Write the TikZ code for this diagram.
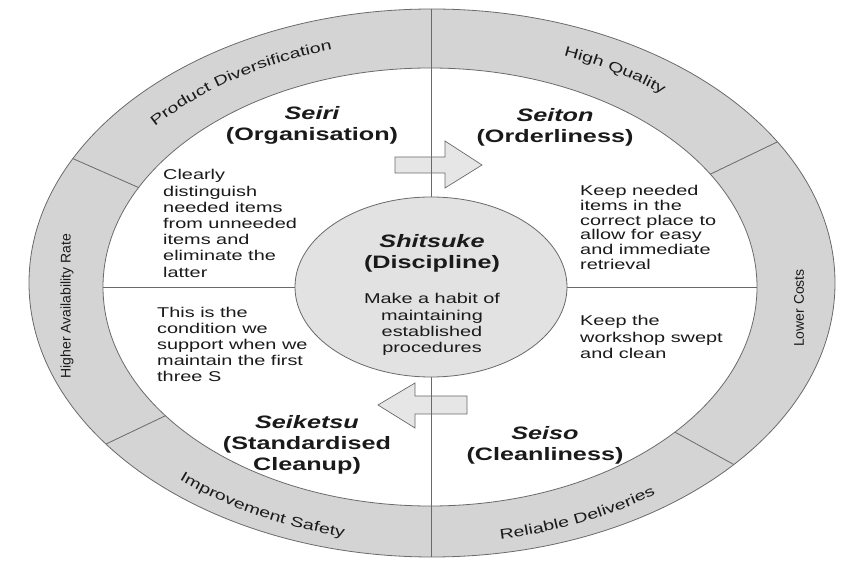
\documentclass[tikz,border=0pt]{standalone}
\usepackage{fontspec}
\setmainfont{Liberation Sans}
\newfontfamily\widefont{Liberation Sans}[FakeStretch=1.4]
\usetikzlibrary{decorations.text,calc}
\definecolor{bandgray}{HTML}{D4D4D4}
\definecolor{circgray}{HTML}{E2E2E2}
\definecolor{arrowgray}{HTML}{E6E6E6}
\definecolor{linegray}{HTML}{6A6A6A}
\definecolor{txt}{HTML}{1A1A1A}
\newcommand\bandtxt{\widefont\fontsize{14}{16}\selectfont\color{txt}}
\begin{document}
\begin{tikzpicture}[x=1pt,y=1pt,
  edge/.style={draw=linegray, line width=0.8pt},
  titletxt/.style={font={\widefont\bfseries\fontsize{18}{21}\selectfont}, align=center, text=txt, inner sep=0pt},
  bodytxt/.style={font={\widefont\fontsize{14.2}{16.2}\selectfont}, align=left, text=txt, inner sep=0pt, anchor=west},
  vlabel/.style={font={\fontsize{14}{15}\selectfont}, rotate=90, text=txt, inner sep=0pt},
  blockarrow/.style={draw=linegray, fill=arrowgray, line width=0.7pt, line join=miter},
  bandlabel/.style={decorate, decoration={text along path, text align=center, text={|\bandtxt|#1}}}]
\useasboundingbox (0,0) rectangle (844,560);

% rings
\coordinate (oc) at (432,277);
\coordinate (ic) at (430,273);
\draw[edge, fill=bandgray] (oc) ellipse [x radius=403, y radius=274];
\draw[edge, fill=white] (ic) ellipse [x radius=327, y radius=219];

% band dividers
\foreach \a [count=\i] in {153,31,-41.5,216}{
  \path (oc) ++(\a:403 and 274) coordinate (o\i);
  \path (ic) ++(\a:327 and 219) coordinate (n\i);
  \draw[edge] (n\i) -- (o\i);
}

% block arrows
\coordinate (ta) at (395,395);
\draw[blockarrow] (ta) ++(0,8) -- ++(50,0) -- ++(0,16) -- ++(37,-24) -- ++(-37,-23) -- ++(0,15) -- ++(-50,0) -- cycle;
\coordinate (ba) at (467,155);
\draw[blockarrow] (ba) ++(0,9) -- ++(-52,0) -- ++(0,13) -- ++(-37,-22) -- ++(37,-23) -- ++(0,14) -- ++(52,0) -- cycle;

% axis lines
\coordinate (vt) at (431,551);
\coordinate (vb) at (431,3);
\coordinate (hl) at (103,273);
\coordinate (hr) at (757,273);
\draw[edge] (vt) -- (vb);
\draw[edge] (hl) -- (hr);

% centre
\draw[edge, fill=circgray] (431,273) ellipse [x radius=136, y radius=90];

% band labels
\path[bandlabel={Product Diversification}] (431,275) ++(152:362 and 244.5) arc[start angle=152, end angle=96, x radius=362, y radius=244.5];
\path[bandlabel={High Quality}] (431,275) ++(78:365 and 246.5) arc[start angle=78, end angle=40, x radius=365, y radius=246.5];
\path[bandlabel={Reliable Deliveries}] (431,275) ++(-90:382 and 258.6) arc[start angle=-90, end angle=-42, x radius=382, y radius=258.6];
\path[bandlabel={Improvement Safety}] (431,275) ++(-142:382 and 258.6) arc[start angle=-142, end angle=-94, x radius=382, y radius=258.6];
\node[vlabel] (har) at (67,254) {Higher Availability Rate};
\node[vlabel] (lc) at (799,252) {Lower Costs};

% titles
\node[titletxt] (seiri) at (312,434.5) {{\itshape Seiri}\\(Organisation)};
\node[titletxt] (seiton) at (555,433) {{\itshape Seiton}\\(Orderliness)};
\node[titletxt] (shitsuke) at (432,307) {{\itshape Shitsuke}\\(Discipline)};
\node[titletxt] (seiketsu) at (307,115) {{\itshape Seiketsu}\\(Standardised\\Cleanup)};
\node[titletxt] (seiso) at (545,114.5) {{\itshape Seiso}\\(Cleanliness)};

% bodies
\node[bodytxt] (b1) at (163,336.5) {Clearly\\distinguish\\needed items\\from unneeded\\items and\\eliminate the\\latter};
\node[bodytxt, font={\widefont\fontsize{14.2}{14.8}\selectfont}] (b2) at (580,332.5) {Keep needed\\items in the\\correct place to\\allow for easy\\and immediate\\retrieval};
\node[bodytxt] (b3) at (157,215.5) {This is the\\condition we\\support when we\\maintain the first\\three S};
\node[bodytxt] (b4) at (580,223) {Keep the\\workshop swept\\and clean};
\node[bodytxt, align=center, anchor=center] (b5) at (432,235.5) {Make a habit of\\maintaining\\established\\procedures};
\end{tikzpicture}
\end{document}
